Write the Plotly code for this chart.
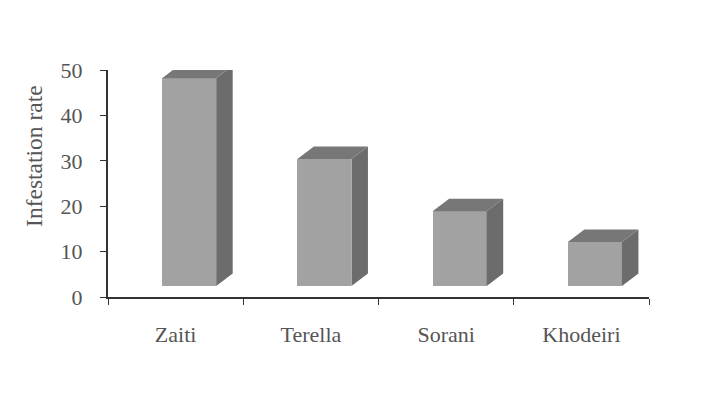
import plotly.graph_objects as go

# Infestation rate per variety
categories = ["Zaiti", "Terella", "Sorani", "Khodeiri"]
infestation = [45.8, 28.0, 16.5, 9.7]
y_ticks = [0, 10, 20, 30, 40, 50]

# Pseudo-3D column geometry (axis units)
lift = 2.4          # columns stand slightly above the front edge of the floor
depth_x = 0.122     # oblique depth, horizontal component
depth_y = 2.75      # oblique depth, vertical component
face_offset = -0.10
face_width = 0.40

FRONT = "#a2a2a2"
SIDE = "#6c6c6c"
TOP = "#777777"
TEXT = "#555555"
AXIS = "#333333"
FONT = "Liberation Serif"

xs = list(range(len(categories)))

fig = go.Figure()

# front faces
fig.add_trace(go.Bar(
    x=xs, y=infestation, base=[lift] * len(xs),
    offset=face_offset, width=face_width,
    marker=dict(color=FRONT, line=dict(width=0)),
    hoverinfo="skip", showlegend=False,
))

# side and top faces as filled polygons
for xi, v in zip(xs, infestation):
    x0 = xi + face_offset
    x1 = x0 + face_width
    top = lift + v
    fig.add_trace(go.Scatter(
        x=[x1, x1 + depth_x, x1 + depth_x, x1, x1],
        y=[lift, lift + depth_y, top + depth_y, top, lift],
        fill="toself", fillcolor=SIDE, mode="lines", line=dict(width=0),
        hoverinfo="skip", showlegend=False,
    ))
    fig.add_trace(go.Scatter(
        x=[x0, x1, x1 + depth_x, x0 + depth_x, x0],
        y=[top, top, top + depth_y, top + depth_y, top],
        fill="toself", fillcolor=TOP, mode="lines", line=dict(width=0),
        hoverinfo="skip", showlegend=False,
    ))

fig.update_layout(
    width=714, height=406,
    margin=dict(l=108, r=65, t=70, b=109),
    paper_bgcolor="white", plot_bgcolor="white",
    font=dict(family=FONT, color=TEXT, size=22),
    bargap=0,
    xaxis=dict(
        range=[-0.5, len(categories) - 0.5],
        tickmode="array", tickvals=xs, ticktext=categories,
        ticks="", showgrid=False, zeroline=False,
        showline=True, linecolor=AXIS, linewidth=2,
        tickfont=dict(family=FONT, size=22, color=TEXT),
        ticklabelstandoff=17,
        minor=dict(
            tickmode="array",
            tickvals=[i - 0.5 for i in range(len(categories) + 1)],
            ticks="outside", ticklen=6, tickcolor=AXIS, tickwidth=1,
            showgrid=False,
        ),
        fixedrange=True,
    ),
    yaxis=dict(
        range=[0, 50],
        tickmode="array", tickvals=y_ticks,
        ticks="outside", ticklen=6, tickcolor=AXIS, tickwidth=1,
        showgrid=False, zeroline=False,
        showline=True, linecolor=AXIS, linewidth=2,
        tickfont=dict(family=FONT, size=22, color=TEXT),
        ticklabelstandoff=13,
        fixedrange=True,
    ),
    annotations=[dict(
        text="Infestation rate", textangle=-90,
        xref="paper", yref="paper", x=-0.137, y=0.621,
        xanchor="center", yanchor="middle", showarrow=False,
        font=dict(family=FONT, size=23.5, color=TEXT),
    )],
)

fig.write_html("out.html")
